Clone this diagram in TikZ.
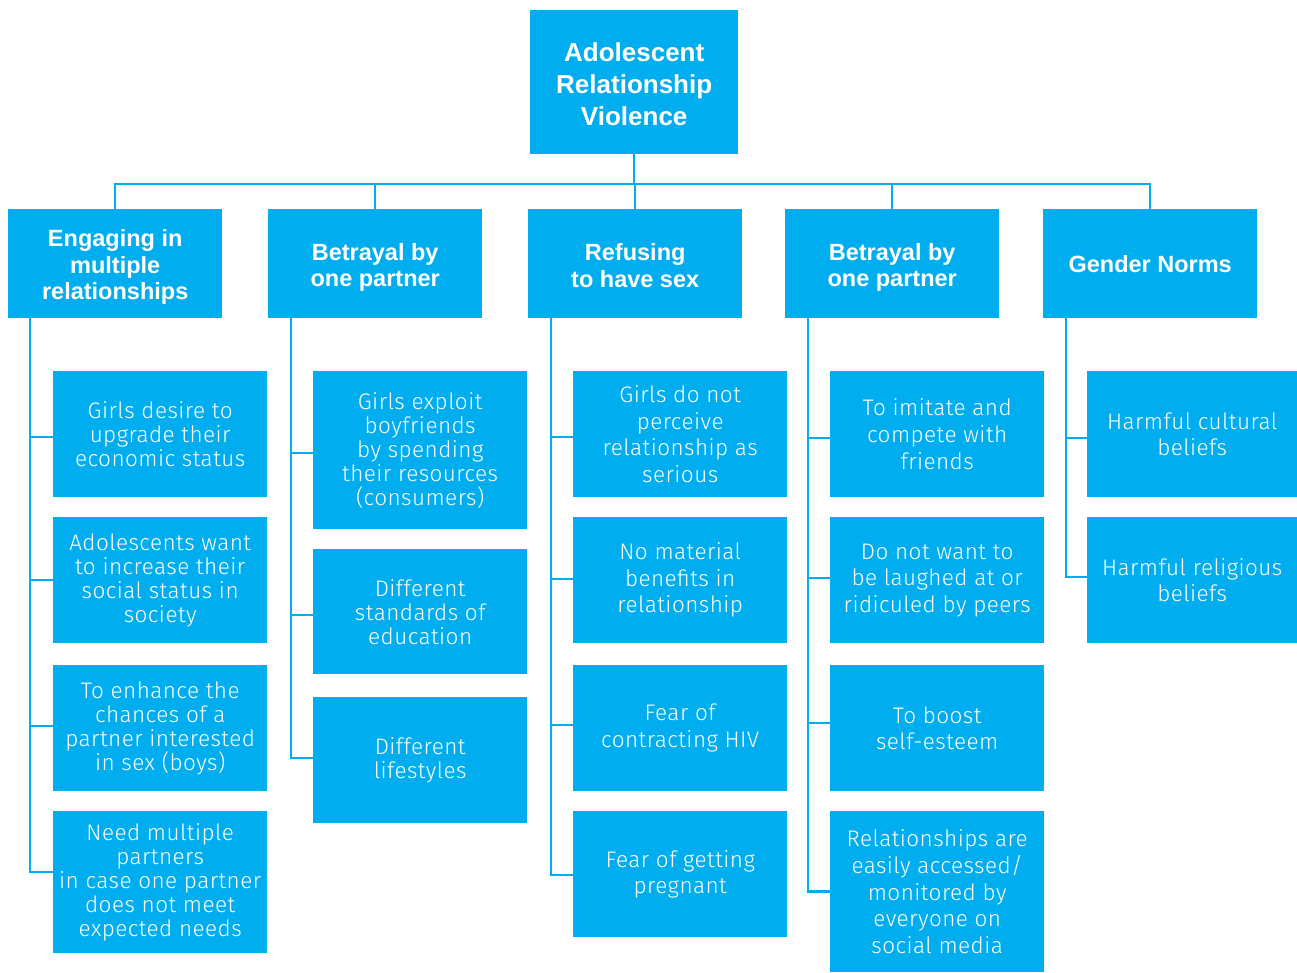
\documentclass[tikz,border=0pt]{standalone}
\usepackage{fontspec}
\setmainfont{Liberation Sans}
\IfFontExistsTF{Fira Sans Light}{\newfontfamily\leaffont{Fira Sans Light}[LetterSpace=2.0]}{\newfontfamily\leaffont{Liberation Sans}}
\definecolor{cy}{HTML}{00AEEF}
\tikzset{
  bx/.style={fill=cy, text=white, inner sep=0pt, align=center, anchor=north west},
  txt/.style={text=white, inner sep=0pt, align=center},
  rootfont/.style={font=\bfseries\fontsize{26}{32}\selectfont},
  headfont/.style={font=\bfseries\fontsize{23.5}{26.5}\selectfont},
  leafa/.style={bx, font=\leaffont\fontsize{22.5}{24}\selectfont},
  leafb/.style={bx, font=\leaffont\fontsize{22.5}{26.6}\selectfont},
  conn/.style={draw=cy, line width=2.5pt},
}
\newcommand\mybox[7]{\node[#1, minimum width={(#4)-(#2)}, minimum height={(#5)-(#3)}] (#6) at (#2,#3) {#7};}
% heading box: style, x1,y1,x2,y2, name, text shift, text
\newcommand\myhead[8]{\node[bx, minimum width={(#4)-(#2)}, minimum height={(#5)-(#3)}] (#6) at (#2,#3) {};
  \node[txt, #1] (#6-t) at ([yshift=#7]#6.center) {#8};}
\begin{document}
\begin{tikzpicture}[x=1pt, y=-1pt]
\useasboundingbox (0,0) rectangle (1297,972);
% root
\myhead{rootfont}{530}{10}{738}{154}{root}{-2pt}{Adolescent\\Relationship\\Violence}
% level 2
\myhead{headfont}{8}{209}{222}{318}{c1}{-3.5pt}{Engaging in\\multiple\\relationships}
\myhead{headfont}{268}{209}{482}{318}{c2}{-3.5pt}{Betrayal by\\one partner}
\myhead{headfont}{528}{209}{742}{318}{c3}{-2pt}{Refusing\\to have sex}
\myhead{headfont}{785}{209}{999}{318}{c4}{-3.5pt}{Betrayal by\\one partner}
\myhead{headfont}{1043}{209}{1257}{318}{c5}{0pt}{Gender Norms}
% column 1
\mybox{leafa}{53}{371}{267}{497}{l11}{Girls desire to\\upgrade their\\economic status}
\mybox{leafa}{53}{517}{267}{643}{l12}{Adolescents want\\to increase their\\social status in\\society}
\mybox{leafa}{53}{665}{267}{791}{l13}{To enhance the\\chances of a\\partner interested\\in sex (boys)}
\mybox{leafa}{53}{811}{267}{953}{l14}{Need multiple\\partners\\in case one partner\\does not meet\\expected needs}
% column 2
\mybox{leafa}{313}{371}{527}{529}{l21}{Girls exploit\\boyfriends\\by spending\\their resources\\(consumers)}
\mybox{leafa}{313}{549}{527}{674}{l22}{Different\\standards of\\education}
\mybox{leafa}{313}{697}{527}{823}{l23}{Different\\lifestyles}
% column 3
\mybox{leafb}{573}{371}{787}{497}{l31}{Girls do not\\perceive\\relationship as\\serious}
\mybox{leafb}{573}{517}{787}{643}{l32}{No material\\benefits in\\relationship}
\mybox{leafb}{573}{665}{787}{791}{l33}{Fear of\\contracting HIV}
\mybox{leafb}{573}{811}{787}{937}{l34}{Fear of getting\\pregnant}
% column 4
\mybox{leafb}{830}{371}{1044}{497}{l41}{To imitate and\\compete with\\friends}
\mybox{leafb}{830}{517}{1044}{643}{l42}{Do not want to\\be laughed at or\\ridiculed by peers}
\mybox{leafb}{830}{665}{1044}{791}{l43}{To boost\\self-esteem}
\mybox{leafb}{830}{811}{1044}{972}{l44}{Relationships are\\easily accessed/\\monitored by\\everyone on\\social media}
% column 5
\mybox{leafb}{1087}{371}{1297}{497}{l51}{Harmful cultural\\beliefs}
\mybox{leafb}{1087}{517}{1297}{643}{l52}{Harmful religious\\beliefs}
% spine coordinates
\coordinate (bus) at (0,184);
\coordinate (s1) at (30,0);
\coordinate (s2) at (291,0);
\coordinate (s3) at (551,0);
\coordinate (s4) at (808,0);
\coordinate (s5) at (1066,0);
% top connectors
\draw[conn] (root.south) -- (root.south |- bus);
\draw[conn] (c1.north) -- (c1.north |- bus) -- (c5.north |- bus) -- (c5.north);
\foreach \c in {c2,c3,c4} \draw[conn] (\c.north |- bus) -- (\c.north);
% column spines
\draw[conn] (s1 |- c1.south) |- ([yshift=10pt]l14.west);
\draw[conn] (s2 |- c2.south) |- ([yshift=2pt]l23.west);
\draw[conn] (s3 |- c3.south) |- ([yshift=-1pt]l34.west);
\draw[conn] (s4 |- c4.south) |- (l44.west);
\draw[conn] (s5 |- c5.south) |- ([yshift=3pt]l52.west);
% branches
\foreach \n/\s/\d in {l11/s1/-3, l12/s1/0, l13/s1/2,
                      l21/s2/-3, l22/s2/-3.5,
                      l31/s3/-3, l32/s3/1, l33/s3/3,
                      l41/s4/-4, l42/s4/2, l43/s4/5,
                      l51/s5/-4}{
  \coordinate (b-\n) at ([yshift=\d pt]\n.west);
  \draw[conn] (\s |- b-\n) -- (b-\n);
}
\end{tikzpicture}
\end{document}
